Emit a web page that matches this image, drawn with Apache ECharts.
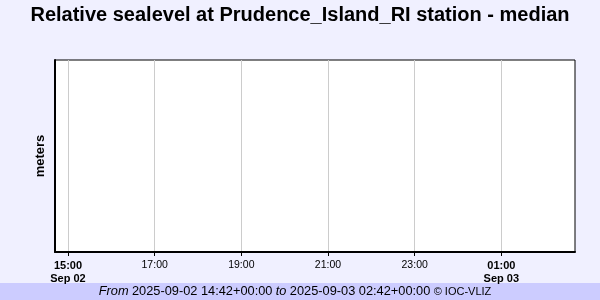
<!DOCTYPE html>
<html>
<head>
<meta charset="utf-8">
<script src="https://cdn.jsdelivr.net/npm/echarts@6/dist/echarts.min.js"></script>
<style>
  html, body { margin: 0; padding: 0; background: #f0f0ff; }
  #chart { width: 600px; height: 300px; }
</style>
</head>
<body>
<div id="chart"></div>
<script>
// Observation window (UTC)
const windowStart = Date.UTC(2025, 8, 2, 14, 42);
const windowEnd = Date.UTC(2025, 8, 3, 2, 42);
const windowStartText = '2025-09-02 14:42+00:00';
const windowEndText = '2025-09-03 02:42+00:00';

// Tick positions on the time axis and their labels
const tickTimes = [
  Date.UTC(2025, 8, 2, 15), Date.UTC(2025, 8, 2, 17), Date.UTC(2025, 8, 2, 19),
  Date.UTC(2025, 8, 2, 21), Date.UTC(2025, 8, 2, 23), Date.UTC(2025, 8, 3, 1)
];
const tickLabels = ['15:00', '17:00', '19:00', '21:00', '23:00', '01:00'];
const tickDates = ['Sep 02', '', '', '', '', 'Sep 03'];

// Median sea level readings (none available in this window)
const sealevelTimes = [];
const sealevelValues = [];

const FONT = 'Liberation Sans, Arial, sans-serif';
const chart = echarts.init(document.getElementById('chart'), null, { renderer: 'canvas' });

chart.setOption({
  backgroundColor: '#f0f0ff',
  animation: false,
  title: {
    text: 'Relative sealevel at Prudence_Island_RI station - median',
    left: 'center',
    top: 0,
    textStyle: { fontFamily: FONT, fontSize: 20, fontWeight: 'bold', color: '#000' }
  },
  grid: {
    left: 55, right: 25, top: 60, bottom: 48,
    show: true, backgroundColor: '#ffffff', borderColor: '#000', borderWidth: 1
  },
  xAxis: {
    type: 'value',
    min: windowStart,
    max: windowEnd,
    axisLine: { show: true, onZero: false, lineStyle: { color: '#000', width: 2 } },
    axisTick: { show: true, length: 4, customValues: tickTimes, lineStyle: { color: '#000', width: 1 } },
    splitLine: { show: true, lineStyle: { color: '#cccccc', width: 1 } },
    axisLabel: {
      customValues: tickTimes,
      margin: 7,
      fontFamily: FONT,
      fontSize: 10.5,
      color: '#000',
      lineHeight: 13,
      formatter: function (v) {
        const i = tickTimes.indexOf(v);
        if (i < 0) return '';
        if (tickDates[i]) return '{b|' + tickLabels[i] + '}\n{b|' + tickDates[i] + '}';
        return tickLabels[i];
      },
      rich: {
        b: { fontFamily: FONT, fontSize: 11, fontWeight: 'bold', color: '#000', lineHeight: 13 }
      }
    }
  },
  yAxis: {
    type: 'value',
    min: 0,
    max: 1,
    name: 'meters',
    nameLocation: 'middle',
    nameGap: 8,
    nameTextStyle: { fontFamily: FONT, fontSize: 13, fontWeight: 'bold', color: '#000' },
    axisLine: { show: true, lineStyle: { color: '#000', width: 2 } },
    axisTick: { show: false },
    axisLabel: { show: false },
    splitLine: { show: false }
  },
  series: [{
    type: 'line',
    showSymbol: false,
    data: sealevelTimes.map((t, i) => [t, sealevelValues[i]])
  }],
  graphic: [
    {
      type: 'rect',
      shape: { x: 0, y: 283, width: 600, height: 17 },
      style: { fill: '#ccccff' },
      silent: true
    },
    {
      type: 'text',
      x: 295,
      y: 291.5,
      silent: true,
      style: {
        text: '{i|From} {n|' + windowStartText + '} {i|to} {n|' + windowEndText + '} {s|© IOC-VLIZ}',
        align: 'center',
        verticalAlign: 'middle',
        rich: {
          i: { fontFamily: FONT, fontSize: 12.8, fontStyle: 'italic', fill: '#000' },
          n: { fontFamily: FONT, fontSize: 12.8, fill: '#000' },
          s: { fontFamily: FONT, fontSize: 11, fill: '#000' }
        }
      }
    }
  ]
});
</script>
</body>
</html>
